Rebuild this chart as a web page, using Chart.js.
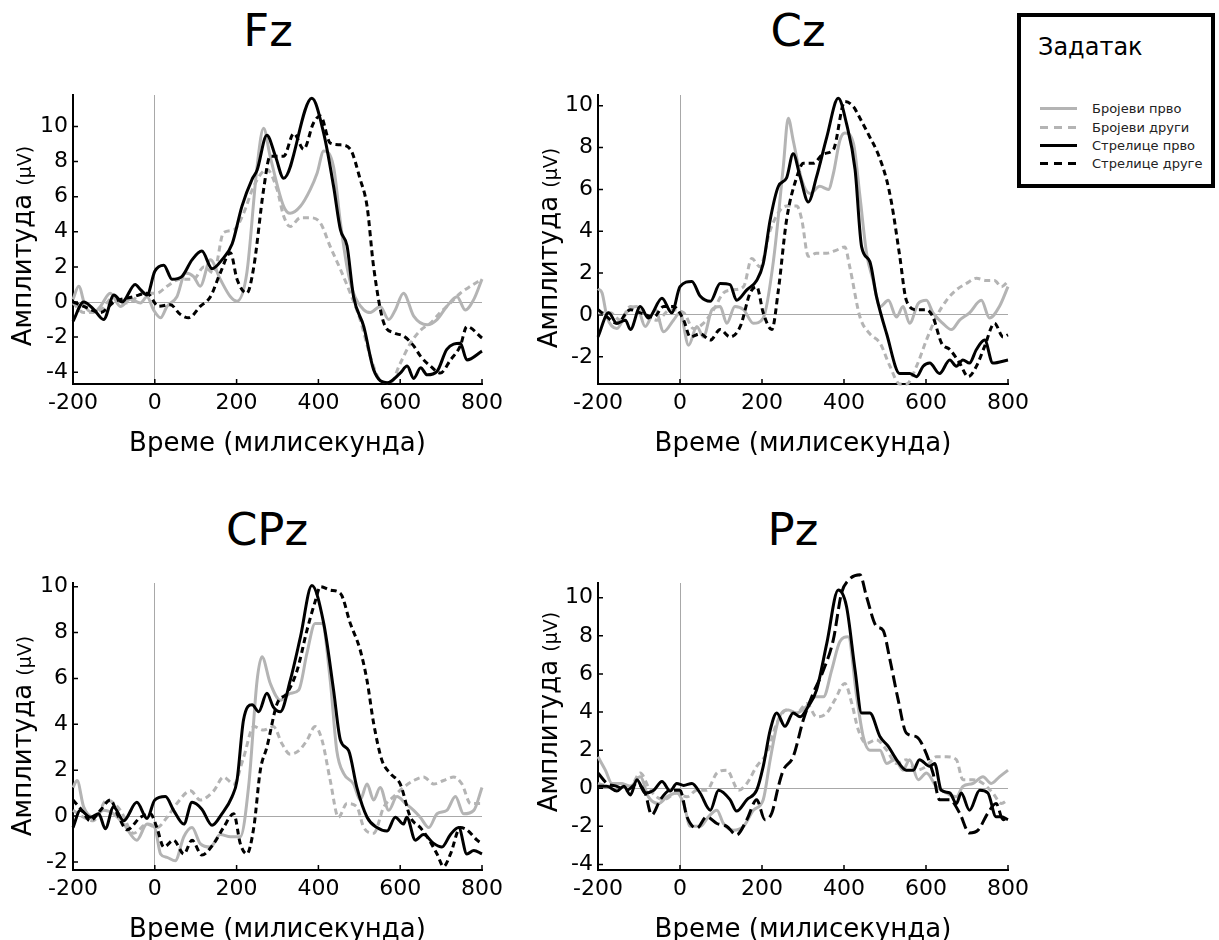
<!DOCTYPE html>
<html>
<head>
<meta charset="utf-8">
<script src="https://cdn.jsdelivr.net/npm/chart.js@4.4.0/dist/chart.umd.min.js"></script>
<style>
body{margin:0;width:1219px;height:940px;overflow:hidden;background:#fff;position:relative;font-family:'DejaVu Sans',sans-serif;color:#000}
canvas.p{position:absolute}
.ttl{position:absolute;font-size:45px;line-height:1;transform:translateX(-50%);white-space:nowrap}
.ylab{position:absolute;font-size:26px;line-height:1;white-space:nowrap;transform:translate(-50%,-50%) rotate(-90deg)}
.ylab small{font-size:19px}
#legend{position:absolute;left:1017px;top:13px;width:198px;height:175px;box-sizing:border-box;border:4px solid #000;background:#fff}
#legend .head{position:absolute;left:17px;top:18px;font-size:24px;line-height:1}
#legend .item{position:absolute;left:19px;height:14px;display:flex;align-items:center;font-size:13px;line-height:1;color:#222;white-space:nowrap}
#legend .item i{display:inline-block;width:37px;height:3px;margin-right:15px}
</style>
</head>
<body>
<div class="ttl" style="left:268px;top:8px">Fz</div>
<div class="ttl" style="left:798px;top:8px">Cz</div>
<div class="ttl" style="left:267px;top:507px">CPz</div>
<div class="ttl" style="left:793px;top:507px">Pz</div>

<canvas class="p" id="c-fz" width="520" height="420" style="left:0;top:60px"></canvas>
<canvas class="p" id="c-cz" width="521" height="420" style="left:525px;top:60px"></canvas>
<canvas class="p" id="c-cpz" width="520" height="418" style="left:0;top:548px"></canvas>
<canvas class="p" id="c-pz" width="521" height="418" style="left:525px;top:548px"></canvas>

<div class="ylab" style="left:22px;top:246px">Амплитуда <small>(μV)</small></div>
<div class="ylab" style="left:548px;top:248px">Амплитуда <small>(μV)</small></div>
<div class="ylab" style="left:22px;top:736px">Амплитуда <small>(μV)</small></div>
<div class="ylab" style="left:548px;top:712px">Амплитуда <small>(μV)</small></div>

<div id="legend">
  <div class="head">Задатак</div>
  <div class="item" style="top:84px"><i id="lg0"></i><span id="lt0"></span></div>
  <div class="item" style="top:103px"><i id="lg1"></i><span id="lt1"></span></div>
  <div class="item" style="top:121px"><i id="lg2"></i><span id="lt2"></span></div>
  <div class="item" style="top:139px"><i id="lg3"></i><span id="lt3"></span></div>
</div>

<script>
// series names, same order in every panel
const seriesNames = ['Бројеви прво','Бројеви други','Стрелице прво','Стрелице друге']

const xTicks = [-200,0,200,400,600,800]
const fzTicks = [-4,-2,0,2,4,6,8,10]
const czTicks = [-2,0,2,4,6,8,10]
const cpzTicks = [-2,0,2,4,6,8,10]
const pzTicks = [-4,-2,0,2,4,6,8,10]

// y ranges
const fzRange = [-4.67,11.79]
const czRange = [-3.30,10.51]
const cpzRange = [-2.35,10.16]
const pzRange = [-4.29,10.77]

// [time ms, amplitude µV]
const fzNumFirst = [[-200,0.15],[-186,0.9],[-170,-0.25],[-150,-0.6],[-133,-0.25],[-109,0.5],[-84,-0.25],[-60,0.15],[-35,-0.05],[-19,0.3],[-3,-0.45],[14,-0.9],[30,-0.25],[54,0.3],[75,1.65],[95,1.45],[111,0.9],[136,2.4],[160,1.3],[185,0.3],[201,0.05],[225,1.65],[250,7.7],[266,9.9],[282,8.3],[315,5.45],[331,5.05],[356,5.45],[380,6.4],[397,7.35],[413,8.6],[437,7.7],[454,4.5],[470,2.0],[486,0.5],[511,-0.45],[527,-0.6],[551,-0.25],[572,-1.0],[588,-0.45],[608,0.5],[633,-0.8],[666,-1.3],[690,-1.0],[714,-0.25],[739,0.3],[759,-0.45],[780,0.15],[800,1.3]]
const fzNumSecond = [[-200,-0.05],[-174,-0.6],[-133,-0.45],[-100,0.3],[-68,-0.05],[-27,0.5],[5,0.5],[30,0.9],[62,1.3],[95,1.3],[120,2.0],[144,1.65],[168,3.95],[193,4.1],[217,5.05],[242,6.6],[274,7.55],[299,6.4],[315,4.9],[331,4.3],[356,4.8],[380,4.8],[405,4.5],[429,3.15],[454,1.85],[478,0.5],[502,-1.0],[527,-3.1],[551,-4.45],[576,-4.6],[600,-3.5],[625,-2.35],[650,-1.6],[674,-1.2],[698,-0.6],[723,-0.05],[747,0.5],[772,0.9],[800,1.3]]
const fzArrFirst = [[-200,-1.1],[-174,0],[-150,-0.4],[-125,-1.0],[-100,0.4],[-80,0],[-48,1.0],[-35,0.7],[-19,0.4],[0,1.75],[22,2.1],[42,1.3],[66,1.45],[91,2.4],[115,2.9],[140,1.9],[164,2.4],[189,3.3],[213,5.45],[238,7.0],[250,7.5],[274,9.5],[295,8.3],[315,7.05],[384,11.6],[413,9.6],[437,6.6],[454,4.1],[470,3.2],[486,0.3],[511,-1.4],[535,-3.85],[568,-4.6],[600,-4.05],[617,-3.65],[633,-4.35],[650,-3.75],[666,-4.15],[690,-3.95],[714,-2.7],[747,-2.35],[763,-3.3],[800,-2.8]]
const fzArrSecond = [[-200,0],[-174,-0.25],[-133,-0.6],[-100,0],[-52,0.3],[-19,0.5],[9,-0.25],[38,-0.15],[62,-0.7],[83,-0.9],[111,-0.25],[136,0.3],[160,1.65],[185,2.8],[201,1.3],[225,0.5],[242,2.0],[266,6.4],[282,8.3],[315,8.3],[340,9.6],[364,8.7],[388,10.2],[405,10.6],[429,9.05],[454,8.95],[478,8.7],[502,7.0],[519,5.45],[535,2.0],[560,-1.2],[584,-1.75],[609,-1.95],[633,-2.5],[650,-3.1],[674,-3.65],[698,-4.05],[723,-3.3],[747,-2.5],[763,-1.4],[800,-2.05]]

const czNumFirst = [[-200,1.25],[-190,1.05],[-178,-0.1],[-154,-0.65],[-129,0.15],[-105,0.4],[-85,-0.55],[-60,0.25],[-40,-0.8],[-16,-0.25],[0,0.1],[21,-1.45],[41,-0.55],[57,-1.05],[78,0.25],[98,0.4],[114,-0.4],[134,0.4],[155,0.25],[179,-0.4],[203,-0.15],[228,2.6],[252,7.1],[264,9.4],[276,8.35],[297,6.45],[317,5.8],[341,6.15],[362,6.0],[374,6.75],[390,8.35],[402,8.7],[423,8.2],[439,5.65],[455,2.95],[471,1.65],[488,0.4],[508,0.7],[528,-0.1],[544,0.4],[560,-0.4],[581,0.55],[601,0.7],[617,0.1],[641,-0.4],[662,-0.7],[682,-0.25],[706,0.1],[735,0.7],[755,-0.15],[779,0.4],[800,1.35]]
const czNumSecond = [[-200,0.1],[-170,0.1],[-146,-0.25],[-121,0.4],[-89,0.1],[-56,-0.25],[-24,0.25],[9,0.1],[33,-0.65],[57,-0.4],[82,0.25],[106,1.05],[130,1.2],[155,1.35],[175,2.7],[195,2.3],[220,4.05],[244,5.0],[260,5.2],[285,5.2],[297,4.55],[313,2.8],[333,2.95],[358,2.95],[382,3.1],[402,3.25],[414,2.3],[439,-0.1],[463,-0.9],[488,-1.35],[512,-2.45],[536,-3.3],[552,-3.3],[577,-2.45],[601,-1.2],[625,-0.1],[650,0.7],[674,1.2],[698,1.5],[723,1.75],[747,1.65],[767,1.65],[784,1.35],[800,1.6]]
const czArrFirst = [[-200,-1.05],[-174,0.1],[-154,-0.4],[-133,-0.25],[-121,-0.7],[-97,0.4],[-77,-0.15],[-44,0.8],[-20,0.1],[0,1.35],[29,1.6],[49,0.9],[74,0.65],[98,1.5],[122,1.45],[138,0.7],[163,1.2],[187,1.65],[203,2.45],[220,4.55],[240,6.15],[260,6.55],[276,7.7],[293,6.6],[313,5.4],[333,6.6],[358,8.5],[386,10.35],[406,9.15],[427,6.95],[443,3.25],[463,2.55],[479,0.9],[504,-0.9],[536,-2.8],[560,-2.8],[577,-2.95],[593,-2.45],[609,-2.3],[633,-2.8],[658,-2.15],[674,-2.45],[690,-2.15],[706,-2.3],[723,-1.65],[743,-1.2],[763,-2.3],[800,-2.15]]
const czArrSecond = [[-200,0.25],[-178,-0.1],[-154,-0.4],[-121,0.25],[-97,0.1],[-64,-0.1],[-40,0.4],[-16,0.4],[9,-0.25],[25,-1.05],[49,-0.9],[74,-1.2],[98,-0.7],[122,-1.05],[147,-0.55],[171,1.05],[187,1.35],[203,0.1],[224,-0.7],[240,1.2],[260,4.55],[285,6.6],[301,7.25],[325,7.25],[350,7.7],[374,7.9],[402,10.2],[423,9.95],[439,9.4],[463,8.5],[483,7.7],[504,6.45],[516,5.35],[536,2.8],[552,0.7],[577,0.25],[601,0.25],[617,-0.1],[638,-1.35],[658,-1.65],[682,-2.3],[703,-2.95],[723,-2.45],[743,-1.5],[767,-0.4],[788,-1.05],[800,-0.95]]

const cpzNumFirst = [[-200,1.25],[-190,1.55],[-174,0.4],[-150,-0.05],[-125,0.25],[-101,0.1],[-76,-0.35],[-44,-1.05],[-19,-0.35],[0,-0.5],[14,-1.65],[30,-1.8],[50,-1.95],[71,-0.9],[91,-0.5],[111,-1.2],[136,-1.35],[160,-0.8],[185,-0.9],[209,-0.9],[230,1.4],[250,5.9],[262,6.95],[282,5.8],[307,5.05],[331,5.35],[352,5.5],[372,7.1],[392,8.4],[409,8.4],[429,5.9],[445,2.85],[462,1.85],[486,1.4],[502,0.7],[519,1.4],[535,0.7],[551,1.25],[572,0.25],[592,0.85],[613,0.55],[633,0.25],[649,-0.05],[670,-0.5],[690,0.1],[714,0.25],[735,0.85],[755,0.1],[780,0.25],[800,1.25]]
const cpzNumSecond = [[-200,0.25],[-174,-0.05],[-150,-0.2],[-117,0.7],[-84,0.25],[-52,-0.75],[-19,-0.35],[5,-0.5],[30,-0.05],[54,0.55],[87,1.1],[111,0.7],[144,1.1],[168,1.7],[193,1.4],[217,2.55],[242,3.9],[266,3.75],[290,3.9],[311,3.15],[331,2.7],[352,2.85],[372,3.3],[392,3.9],[409,3.3],[429,1.55],[449,-0.05],[470,0.55],[494,0.4],[511,-0.5],[535,-0.75],[560,0.4],[584,0.85],[608,1.25],[633,1.55],[657,1.7],[682,1.4],[706,1.55],[731,1.7],[751,1.4],[772,0.55],[800,0.55]]
const cpzArrFirst = [[-200,-0.5],[-182,0.25],[-158,-0.05],[-137,0.1],[-121,-0.55],[-101,0.4],[-76,-0.2],[-44,0.6],[-19,-0.1],[0,0.7],[26,0.85],[46,0.25],[71,-0.35],[91,0.6],[115,0.3],[140,-0.4],[164,0.1],[189,0.85],[201,1.55],[217,4.2],[238,4.85],[254,4.55],[274,5.35],[290,4.75],[307,4.55],[331,5.9],[356,7.8],[384,10.05],[413,8.4],[437,5.5],[454,3.3],[474,2.85],[494,1.25],[519,-0.05],[543,-0.5],[568,-0.65],[588,-0.05],[608,-0.35],[616,-0.05],[637,-1.05],[657,-0.8],[682,-1.2],[702,-1.35],[723,-0.8],[743,-0.5],[763,-1.65],[780,-1.5],[800,-1.65]]
const cpzArrSecond = [[-200,0.7],[-178,0.25],[-158,-0.2],[-133,0.25],[-109,0.7],[-88,-0.05],[-68,-0.6],[-35,-0.05],[-11,0.1],[5,-0.5],[22,-1.35],[46,-1.05],[71,-1.65],[91,-1.05],[115,-1.7],[144,-1.2],[168,-0.5],[193,0.1],[209,-1.2],[225,-1.65],[242,-0.5],[258,2.0],[274,3.0],[299,4.9],[323,5.35],[348,6.35],[372,8.1],[392,9.35],[405,10.0],[429,9.85],[454,9.7],[478,8.4],[502,7.25],[519,5.9],[535,4.05],[555,2.45],[576,1.85],[600,1.4],[625,-0.05],[649,-0.5],[666,-0.9],[690,-1.65],[706,-2.2],[723,-1.65],[747,-0.5],[763,-0.6],[788,-1.05],[800,-1.2]]

const pzNumFirst = [[-200,1.65],[-182,0.95],[-166,0.25],[-142,0.25],[-121,0.1],[-97,0.6],[-77,-0.45],[-52,-0.8],[-32,-0.45],[-8,-0.25],[9,-0.8],[25,-2.0],[49,-2.0],[69,-1.5],[90,-1.15],[106,-1.85],[130,-2.2],[155,-2.0],[179,-1.15],[203,-0.6],[220,1.5],[240,3.6],[264,4.1],[285,3.95],[309,4.3],[329,4.8],[350,4.8],[370,6.2],[390,7.7],[410,7.95],[431,4.8],[447,2.7],[463,2.0],[488,2.0],[504,1.3],[524,1.5],[544,0.95],[560,1.5],[581,0.45],[601,0.8],[625,0.1],[650,-0.25],[674,-0.45],[690,0.1],[714,0.25],[739,0.6],[759,0.25],[779,0.6],[800,0.95]]
const pzNumSecond = [[-200,0.25],[-170,0.1],[-146,0.25],[-121,0.1],[-97,0.8],[-73,-0.1],[-40,-0.6],[-8,-0.25],[17,-0.45],[41,-0.1],[65,-0.1],[90,0.8],[114,0.95],[143,-0.1],[163,0.25],[187,1.15],[212,1.85],[236,3.4],[260,4.1],[285,3.95],[309,4.45],[333,3.75],[358,3.95],[378,4.65],[402,5.5],[419,4.45],[435,3.05],[455,2.35],[479,2.55],[504,2.0],[528,1.3],[552,1.5],[577,0.95],[601,1.15],[625,1.65],[650,1.65],[674,1.5],[690,0.45],[714,0.45],[739,0.25],[763,-0.25],[784,-0.8],[800,-0.6]]
const pzArrFirst = [[-200,0.1],[-178,0.1],[-154,-0.15],[-137,0.1],[-121,-0.35],[-105,0.45],[-85,-0.25],[-64,-0.1],[-44,0.35],[-24,-0.15],[-8,0.25],[9,0.15],[29,0.25],[49,-0.25],[74,-1.15],[94,-0.1],[122,-0.6],[138,-1.2],[163,-0.6],[187,-0.1],[203,1.15],[220,3.05],[236,3.95],[256,3.25],[276,3.95],[293,3.75],[313,4.3],[333,5.15],[358,7.6],[386,10.4],[406,9.55],[427,6.2],[443,3.95],[463,3.95],[488,2.7],[508,2.2],[528,1.5],[552,0.95],[569,0.95],[584,1.5],[609,1.15],[621,1.3],[637,-0.1],[658,-0.25],[674,-0.8],[686,-0.25],[706,-1.15],[731,-0.1],[751,-0.25],[771,-1.5],[784,-1.5],[800,-1.65]]
const pzArrSecond = [[-200,0.8],[-178,0.25],[-154,0.1],[-129,-0.1],[-105,0.25],[-85,-0.25],[-69,-1.4],[-48,-0.6],[-24,-0.1],[0,-0.1],[17,-1.5],[41,-2.1],[65,-1.5],[90,-1.85],[114,-2.0],[138,-2.45],[163,-1.65],[187,-0.6],[207,-1.65],[224,-1.3],[240,0.1],[252,0.95],[276,1.65],[301,3.6],[325,5.0],[350,6.2],[374,7.8],[394,10.25],[410,10.9],[439,11.2],[455,10.05],[479,8.5],[495,8.3],[512,6.75],[532,4.65],[552,2.9],[577,2.7],[593,2.2],[617,0.8],[633,-0.6],[658,-0.6],[682,-1.3],[706,-2.35],[727,-2.2],[751,-1.3],[771,-0.8],[788,-1.65],[800,-1.5]]

const GRAY = '#b4b4b4'
const ZERO = '#a8a8a8'
const FONT = "'DejaVu Sans', sans-serif"

// small inward tick marks on both axes
const inwardTicks = {
  id:'inwardTicks',
  beforeDatasetsDraw(chart){
    const {ctx, chartArea:a, scales:{x,y}} = chart
    ctx.save()
    ctx.strokeStyle = '#000'
    ctx.lineWidth = 1.5
    ctx.beginPath()
    x.ticks.forEach(t=>{ const px = x.getPixelForValue(t.value); ctx.moveTo(px,a.bottom); ctx.lineTo(px,a.bottom-5) })
    y.ticks.forEach(t=>{ const py = y.getPixelForValue(t.value); ctx.moveTo(a.left,py); ctx.lineTo(a.left+5,py) })
    ctx.stroke()
    ctx.restore()
  }
}

function panel(id, range, yTicks, series, arrowDash){
  const styles = [
    {color:GRAY, dash:[], order:2},
    {color:GRAY, dash:[6,4], order:3},
    {color:'#000', dash:[], order:0},
    {color:'#000', dash:arrowDash, order:1}
  ]
  const zeroGrid = c => (c.tick && c.tick.value === 0) ? ZERO : 'rgba(0,0,0,0)'
  return new Chart(document.getElementById(id), {
    type:'line',
    data:{
      datasets: series.map((s,i)=>({
        label: seriesNames[i],
        data: s.map(p=>({x:p[0], y:p[1]})),
        borderColor: styles[i].color,
        borderDash: styles[i].dash,
        borderWidth: 3,
        order: styles[i].order,
        pointRadius: 0,
        fill: false,
        cubicInterpolationMode: 'monotone',
        clip: {left:2, top:false, right:2, bottom:2}
      }))
    },
    options:{
      responsive:false,
      animation:false,
      layout:{padding:{left:0, top:35, right:38, bottom:0}},
      plugins:{legend:{display:false}, tooltip:{enabled:false}},
      scales:{
        x:{
          type:'linear', min:-200, max:800,
          afterBuildTicks: s => { s.ticks = xTicks.map(v=>({value:v})) },
          afterFit: s => { s.height = 96; s.paddingLeft = 0; s.paddingRight = 0 },
          grid:{color:zeroGrid, drawTicks:false, lineWidth:1},
          border:{display:true, color:'#000', width:2},
          ticks:{color:'#000', font:{family:FONT, size:22}, padding:6, maxRotation:0, autoSkip:false},
          title:{display:true, text:'Време (милисекунда)', color:'#000', font:{family:FONT, size:26}, padding:{top:0, bottom:20}}
        },
        y:{
          type:'linear', min:range[0], max:range[1],
          afterBuildTicks: s => { s.ticks = yTicks.map(v=>({value:v})) },
          afterFit: s => { s.width = 73; s.paddingTop = 0; s.paddingBottom = 0 },
          grid:{color:zeroGrid, drawTicks:false, lineWidth:1},
          border:{display:true, color:'#000', width:2},
          ticks:{color:'#000', font:{family:FONT, size:22}, padding:5, autoSkip:false}
        }
      }
    },
    plugins:[inwardTicks]
  })
}

panel('c-fz', fzRange, fzTicks, [fzNumFirst, fzNumSecond, fzArrFirst, fzArrSecond], [6,4])
panel('c-cz', czRange, czTicks, [czNumFirst, czNumSecond, czArrFirst, czArrSecond], [6,4])
panel('c-cpz', cpzRange, cpzTicks, [cpzNumFirst, cpzNumSecond, cpzArrFirst, cpzArrSecond], [6,4])
panel('c-pz', pzRange, pzTicks, [pzNumFirst, pzNumSecond, pzArrFirst, pzArrSecond], [12,5])

// legend box
const legendLook = [
  `background:${GRAY}`,
  `background:repeating-linear-gradient(90deg,${GRAY} 0 8px,transparent 8px 14px)`,
  'background:#000',
  'background:repeating-linear-gradient(90deg,#000 0 8px,transparent 8px 14px)'
]
seriesNames.forEach((n,i)=>{
  document.getElementById('lt'+i).textContent = n
  document.getElementById('lg'+i).style.cssText = legendLook[i]
})
</script>
</body>
</html>
